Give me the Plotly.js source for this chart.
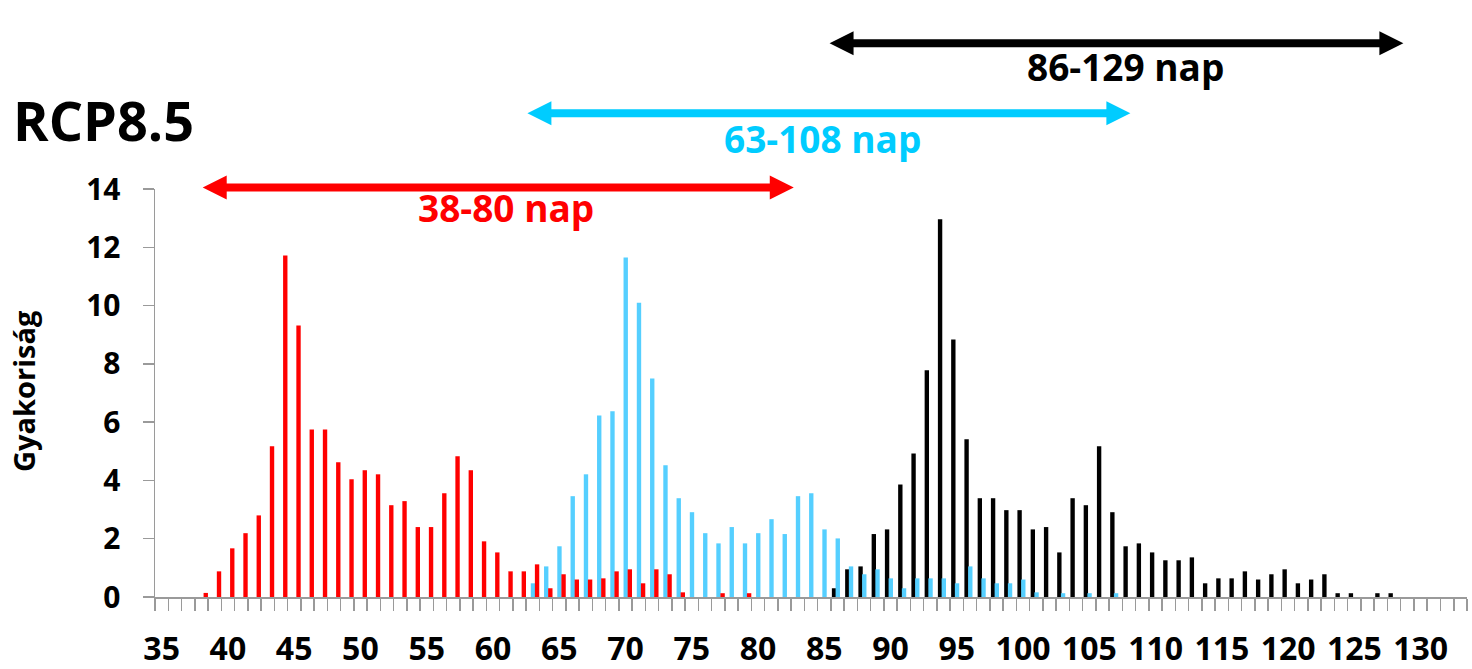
<!DOCTYPE html>
<html>
<head>
<meta charset="utf-8">
<script src="https://cdn.plot.ly/plotly-3.0.1.min.js"></script>
<style>html,body{margin:0;padding:0;background:#fff;}#chart{width:1472px;height:669px;}</style>
</head>
<body>
<div id="chart"></div>
<script>
// ---- data ----
const redDays = [38,39,40,41,42,43,44,45,46,47,48,49,50,51,52,53,54,55,56,57,58,59,60,61,62,63,64,65,66,67,68,69,70,71,72,73,74,75,76,77,78,79];
const redValues = [0.14,0.88,1.67,2.19,2.80,5.17,11.72,9.32,5.75,5.75,4.62,4.04,4.35,4.21,3.15,3.29,2.40,2.40,3.56,4.83,4.35,1.91,1.53,0.88,0.88,1.12,0.30,0.78,0.60,0.60,0.64,0.88,0.95,0.47,0.95,0.78,0.16,0,0,0.13,0,0.13];

const blueDays = [63,64,65,66,67,68,69,70,71,72,73,74,75,76,77,78,79,80,81,82,83,84,85,86,87,88,89,90,91,92,93,94,95,96,97,98,99,100,101,102,103,104,105,106,107];
const blueValues = [0.47,1.05,1.74,3.46,4.21,6.23,6.37,11.65,10.1,7.50,4.52,3.39,2.91,2.19,1.84,2.40,1.84,2.19,2.67,2.16,3.46,3.56,2.32,2.01,1.05,0.78,0.95,0.64,0.30,0.64,0.64,0.64,0.47,1.05,0.64,0.47,0.47,0.60,0.16,0,0.13,0,0.13,0,0.13];

const blackDays = [86,87,88,89,90,91,92,93,94,95,96,97,98,99,100,101,102,103,104,105,106,107,108,109,110,111,112,113,114,115,116,117,118,119,120,121,122,123,124,125,126,127,128];
const blackValues = [0.30,0.95,1.05,2.16,2.32,3.86,4.92,7.78,12.96,8.84,5.41,3.39,3.39,2.98,2.98,2.32,2.40,1.53,3.39,3.15,5.17,2.91,1.74,1.84,1.53,1.26,1.26,1.36,0.47,0.64,0.64,0.88,0.60,0.78,0.95,0.47,0.60,0.78,0.13,0.13,0,0.13,0.13];

const tickLabels = [35,40,45,50,55,60,65,70,75,80,85,90,95,100,105,110,115,120,125,130];

// range arrows: [start day, end day, label]
const rangeRed = [38.1, 82.7, '38-80 nap'];
const rangeBlue = [62.6, 108.1, '63-108 nap'];
const rangeBlack = [85.4, 128.7, '86-129 nap'];

// ---- styling ----
const FONT = 'Open Sans, DejaVu Sans, sans-serif';
const RED = '#FF0000', BLUE_BAR = '#55CFFF', BLUE_ARROW = '#00CCFF', BLACK = '#000000';
const AX = '#9A9A9A';

const L = 155, R = 5.3, T = 189, B = 72;
const W = 1472, H = 669;
const plotW = W - L - R, plotH = H - T - B;
const xr = [34.5, 133.5];
const pxPerUnit = plotW / (xr[1] - xr[0]);

const barW = 0.33;
const traces = [
  {type:'bar', x: blackDays, y: blackValues, marker:{color:BLACK, line:{width:0}}, width: barW, offset: -0.425, hoverinfo:'x+y'},
  {type:'bar', x: blueDays, y: blueValues, marker:{color:BLUE_BAR, line:{width:0}}, width: barW, offset: -0.145, hoverinfo:'x+y'},
  {type:'bar', x: redDays, y: redValues, marker:{color:RED, line:{width:0}}, width: barW, offset: 0.165, hoverinfo:'x+y'}
];

function arrowPath(x0, x1, yPaper) {
  const hl = 24 / pxPerUnit;      // head length (data units)
  const hh = 12 / plotH;          // head half-height (paper)
  const lt = 4 / plotH;           // shaft half-thickness (paper)
  const y = yPaper;
  return `M${x0},${y} L${x0+hl},${y+hh} L${x0+hl},${y+lt} L${x1-hl},${y+lt} L${x1-hl},${y+hh} L${x1},${y} ` +
         `L${x1-hl},${y-hh} L${x1-hl},${y-lt} L${x0+hl},${y-lt} L${x0+hl},${y-hh} Z`;
}
function py(pixelY) { return (H - B - pixelY) / plotH; }

const arrows = [
  {r: rangeRed, color: RED, y: py(187.5), ty: py(208), tx: 61.0},
  {r: rangeBlue, color: BLUE_ARROW, y: py(113.3), ty: py(138), tx: 84.9},
  {r: rangeBlack, color: BLACK, y: py(43.3), ty: py(66.5), tx: 107.7}
];

const shapes = arrows.map(a => ({
  type:'path', xref:'x', yref:'paper', path: arrowPath(a.r[0], a.r[1], a.y),
  fillcolor: a.color, line:{width:0}, layer:'above'
}));

const annotations = arrows.map(a => ({
  xref:'x', yref:'paper', x: a.tx, y: a.ty, xanchor:'center', yanchor:'middle',
  text: a.r[2], showarrow:false,
  font:{family: FONT, size: 37, color: a.color, weight: 700}
}));

annotations.push({
  xref:'paper', yref:'paper', x: (24 - L) / plotW, y: 0.505, xanchor:'center', yanchor:'middle',
  text:'Gyakoriság', textangle: -90, showarrow:false,
  font:{family: FONT, size: 29, color: BLACK, weight: 700}
});

const layout = {
  width: W, height: H,
  margin: {l: L, r: R, t: T, b: B, pad: 0},
  paper_bgcolor: '#ffffff', plot_bgcolor: '#ffffff',
  showlegend: false,
  barmode: 'overlay',
  title: {
    text: 'RCP8.5', x: 13 / W, xanchor: 'left', xref: 'container',
    y: 1 - 122 / H, yanchor: 'middle', yref: 'container',
    font: {family: FONT, size: 54, color: BLACK, weight: 700}
  },
  xaxis: {
    range: xr, showgrid: false, zeroline: false,
    showline: true, linecolor: AX, linewidth: 2,
    tickmode: 'array', tickvals: tickLabels, ticktext: tickLabels.map(String),
    ticks: '', ticklabelstandoff: 23,
    tickfont: {family: FONT, size: 32, color: BLACK, weight: 700},
    minor: {tick0: 34.5, dtick: 1, ticks: 'outside', ticklen: 12, tickwidth: 1.5, tickcolor: AX, showgrid: false}
  },
  yaxis: {
    range: [0, 14], dtick: 2, tick0: 0, showgrid: false, zeroline: false,
    showline: true, linecolor: AX, linewidth: 1.5,
    ticks: 'outside', ticklen: 11, tickwidth: 1.5, tickcolor: AX,
    ticklabelstandoff: 16,
    tickfont: {family: FONT, size: 30, color: BLACK, weight: 700}
  },
  shapes: shapes,
  annotations: annotations
};

Plotly.newPlot('chart', traces, layout, {displayModeBar: false, staticPlot: true});
</script>
</body>
</html>
